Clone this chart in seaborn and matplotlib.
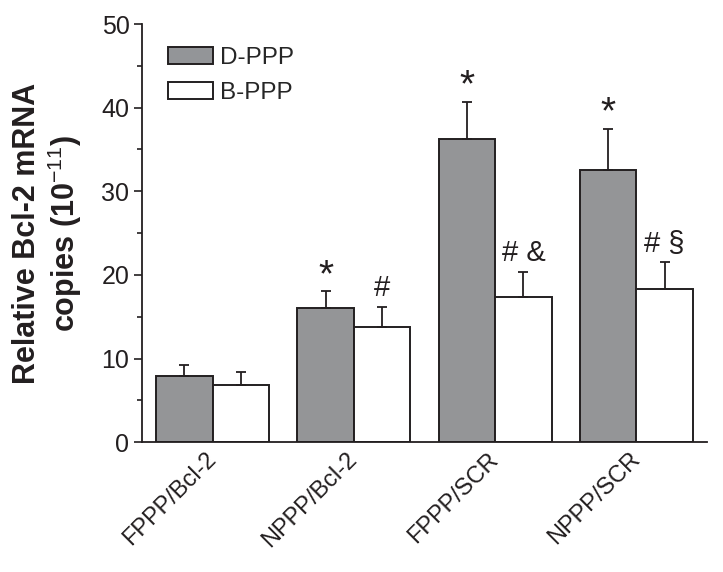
import numpy as np
import pandas as pd
import seaborn as sns
import matplotlib
matplotlib.use("Agg")
import matplotlib.pyplot as plt
from matplotlib.patches import Patch

# values
groups = ["FPPP/Bcl-2", "NPPP/Bcl-2", "FPPP/SCR", "NPPP/SCR"]
series = ["D-PPP", "B-PPP"]
d_ppp_mean = [7.9, 16.1, 36.3, 32.6]
d_ppp_err = [1.3, 2.0, 4.4, 4.9]
b_ppp_mean = [6.8, 13.8, 17.4, 18.3]
b_ppp_err = [1.6, 2.4, 3.0, 3.2]
d_ppp_marks = ["", "*", "*", "*"]
b_ppp_marks = ["", "#", "# &", "# \u00a7"]

colors = {"D-PPP": "#939598", "B-PPP": "#ffffff"}
edge = "#231f20"

sns.set_style("ticks")
plt.rcParams["font.family"] = ["Liberation Sans", "DejaVu Sans"]
plt.rcParams["mathtext.fontset"] = "custom"
plt.rcParams["mathtext.rm"] = "Liberation Sans"
plt.rcParams["mathtext.it"] = "Liberation Sans:italic"
plt.rcParams["mathtext.bf"] = "Liberation Sans:bold"

df = pd.DataFrame({
    "group": groups * 2,
    "series": ["D-PPP"] * 4 + ["B-PPP"] * 4,
    "value": d_ppp_mean + b_ppp_mean,
})
errs = {"D-PPP": d_ppp_err, "B-PPP": b_ppp_err}
marks = {"D-PPP": d_ppp_marks, "B-PPP": b_ppp_marks}

fig = plt.figure(figsize=(7.23, 5.72), dpi=100)
ax = fig.add_axes([0.1964, 0.2268, 0.7815, 0.7312])

sns.barplot(data=df, x="group", y="value", hue="series", order=groups,
            hue_order=series, palette=colors, errorbar=None, width=0.8,
            edgecolor=edge, linewidth=1.4, legend=False, ax=ax)

for name, cont in zip(series, ax.containers):
    xs = [b.get_x() + b.get_width() / 2 for b in cont]
    hs = [b.get_height() for b in cont]
    e = errs[name]
    ax.errorbar(xs, hs, yerr=[np.zeros(len(e)), e], fmt="none",
                ecolor=edge, elinewidth=1.3, capsize=3.6, capthick=1.3,
                zorder=1)
    for x, h, ee, m in zip(xs, hs, e, marks[name]):
        if m == "*":
            # the asterisk glyph is small in this font, draw it larger
            ax.text(x, h + ee + 0.6, m, ha="center", va="baseline",
                    fontsize=28, color=edge)
        elif m:
            ax.text(x, h + ee + 1.3, m, ha="center", va="baseline",
                    fontsize=21, color=edge)

ax.set_xlim(-0.5, 3.5)
ax.set_ylim(0, 50)
ax.set_yticks(np.arange(0, 51, 10))
ax.set_yticks(np.arange(5, 50, 10), minor=True)
ax.tick_params(axis="y", which="major", length=6, width=1.2, labelsize=18,
               colors=edge, pad=3)
ax.tick_params(axis="y", which="minor", length=3.5, width=1.2, colors=edge)
ax.tick_params(axis="x", length=0, labelsize=17, colors=edge, pad=10)
plt.setp(ax.get_xticklabels(), rotation=45, ha="right", va="center",
         rotation_mode="anchor")

for s in ["left", "bottom"]:
    ax.spines[s].set_linewidth(1.3)
    ax.spines[s].set_color(edge)
sns.despine(ax=ax)

ax.set_xlabel("")
ax.set_ylabel("Relative Bcl-2 mRNA\ncopies (10$^{-11}$)", fontsize=22,
              fontweight="bold", color=edge, linespacing=1.12,
              va="center", ha="center")
ax.yaxis.set_label_coords(-0.166, 0.5)

handles = [Patch(facecolor=colors[s], edgecolor=edge, linewidth=1.4, label=s)
           for s in series]
ax.legend(handles=handles, loc="upper left", bbox_to_anchor=(0.02, 0.98),
          frameon=False, fontsize=17.5, handlelength=1.85, handleheight=0.68,
          handletextpad=0.3, labelspacing=0.55, borderaxespad=0.2)

fig.savefig("out.png", dpi=100)
